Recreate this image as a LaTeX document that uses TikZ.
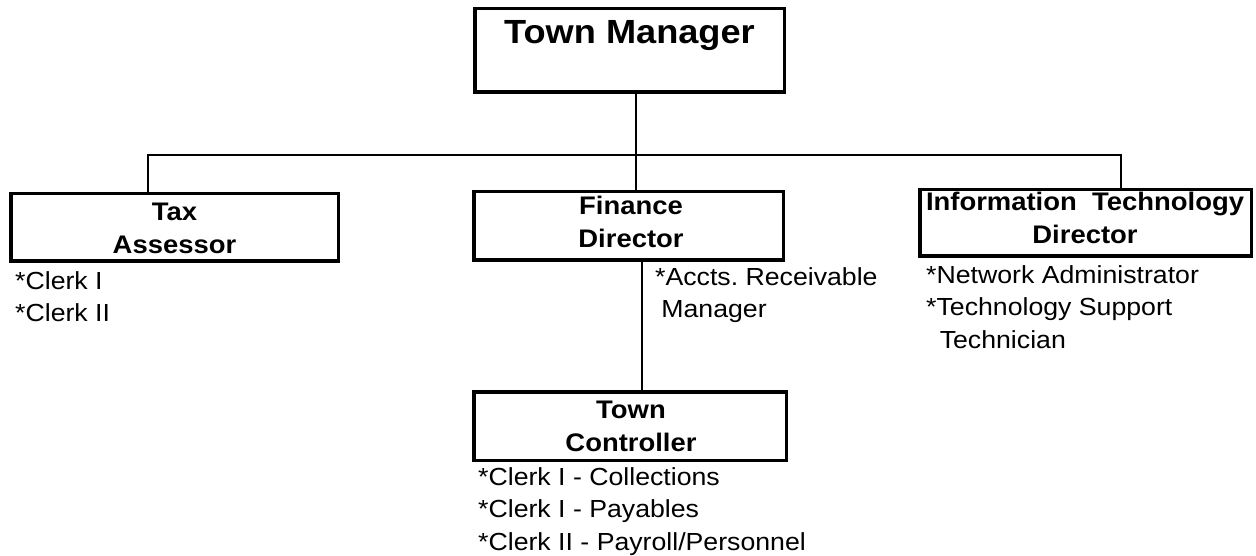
\documentclass[tikz,border=0pt]{standalone}
\usepackage{fontspec}
\setmainfont{Liberation Sans}[FakeStretch=1.08]
\frenchspacing
\begin{document}
\begin{tikzpicture}[x=1pt,y=-1pt,
  box/.style={draw, line width=3.5pt, inner sep=0pt, outer sep=0pt},
  boxtext/.style={anchor=north, inner sep=0pt, align=center,
    font=\fontsize{25.4pt}{32.5pt}\selectfont\bfseries},
  toptext/.style={anchor=north, inner sep=0pt,
    font=\fontsize{33.5pt}{40pt}\selectfont\bfseries},
  listtext/.style={anchor=north west, inner sep=0pt, align=left,
    font=\fontsize{24.7pt}{32.5pt}\selectfont},
  link/.style={draw, line width=1.6pt}]
\useasboundingbox (0,0) rectangle (1256,556);

% boxes
\node[box, minimum width=309.5pt, minimum height=83.5pt] (tm)   at (629.5,50.5) {};
\node[box, minimum width=327.5pt, minimum height=67.5pt] (tax)  at (174.5,227.5) {};
\node[box, minimum width=309.5pt, minimum height=68.5pt] (fin)  at (628.5,226) {};
\node[box, minimum width=331.5pt, minimum height=66.5pt] (it)   at (1085.5,223) {};
\node[box, minimum width=312.5pt, minimum height=68.5pt] (ctrl) at (630,426) {};

% box texts
\node[toptext] (tmt) at (629.5,20) {Town Manager};
\node[boxtext] (taxt) at (174.5,203) {Tax\\Assessor};
\node[boxtext] (fint) at (631,196) {Finance\\Director};
\node[boxtext] (itt) at (1085,192) {Information\ \ Technology\\Director};
\node[boxtext] (ctrlt) at (631,401) {Town\\Controller};

% lists
\node[listtext] (taxl) at (15,271) {*Clerk I\\*Clerk II};
\node[listtext] (accl) at (655,267) {*Accts. Receivable\\\hspace*{0.25em}Manager};
\node[listtext] (itl) at (926,265) {*Network Administrator\\*Technology Support\\\hspace*{0.55em}Technician};
\node[listtext] (ctrll) at (478,467) {*Clerk I - Collections\\*Clerk I - Payables\\*Clerk II - Payroll/Personnel};

% connectors
\coordinate (xa) at (636,0);
\coordinate (xb) at (642,0);
\coordinate (xl) at (148,0);
\coordinate (xr) at (1121,0);
\coordinate (hb) at (0,155);
\draw[link] (tm.south -| xa) -- (fin.north -| xa);
\draw[link] (tax.north -| xl) -- (xl |- hb) -- (xr |- hb) -- (it.north -| xr);
\draw[link] (fin.south -| xb) -- (ctrl.north -| xb);
\end{tikzpicture}
\end{document}
